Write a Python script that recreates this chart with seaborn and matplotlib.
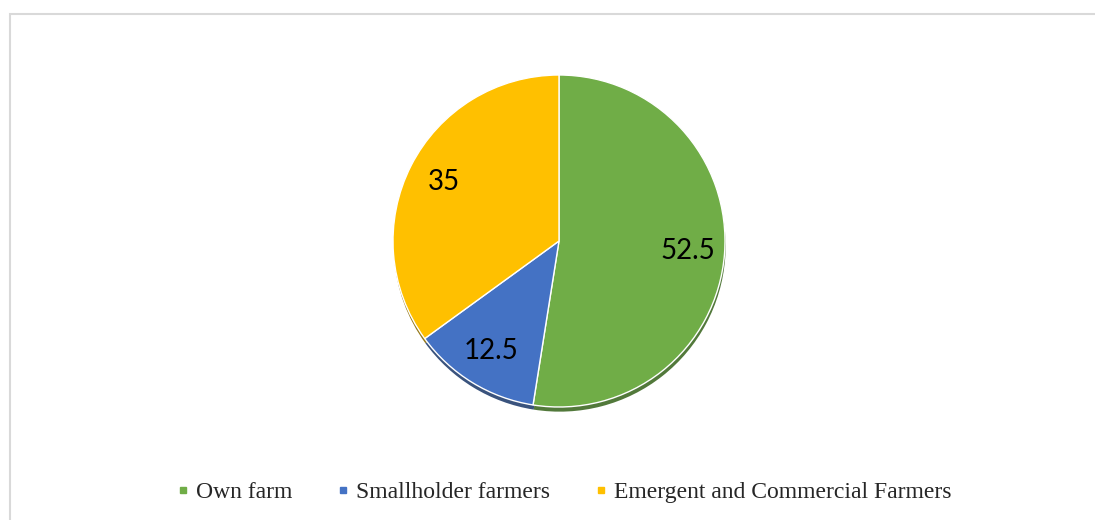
import matplotlib.pyplot as plt
import seaborn as sns
from matplotlib.lines import Line2D
from matplotlib.patches import Rectangle

categories = ["Own farm", "Smallholder farmers", "Emergent and Commercial Farmers"]
shares = [52.5, 12.5, 35]
labels = ["52.5", "12.5", "35"]
colors = ["#70AD47", "#4472C4", "#FFC000"]
shadow_colors = ["#3F6A25", "#24406F", "#8A6A00"]

sns.set_theme(style="white")
plt.rcParams["font.family"] = ["Lato", "DejaVu Sans"]

fig = plt.figure(figsize=(10.95, 5.2), dpi=100)

# light grey chart frame, cut by the right and bottom image edges
fig.patches.append(Rectangle((10 / 1095, -0.1), 1.2, (520 - 14) / 520 + 0.1,
                             transform=fig.transFigure, fill=False,
                             edgecolor="#D9D9D9", linewidth=1.5))

r = 166
cx, cy = 559, 241
ax = fig.add_axes([(cx - r) / 1095, (520 - cy - r) / 520, 2 * r / 1095, 2 * r / 520])

# soft shadow below the pie
shadow, _ = ax.pie(shares, colors=shadow_colors, startangle=90, counterclock=False,
                   radius=1.0, center=(0.004, -0.028),
                   wedgeprops=dict(linewidth=0, alpha=0.9))
wedges, texts = ax.pie(shares, colors=colors, startangle=90, counterclock=False,
                       labels=labels, labeldistance=0.78, radius=1.0,
                       wedgeprops=dict(edgecolor="white", linewidth=1))
for w in shadow + wedges:
    w.set_clip_on(False)
for t in texts:
    t.set_fontsize(20)
    t.set_color("black")
    t.set_ha("center")
ax.set_aspect("equal")
ax.set_xlim(-1, 1)
ax.set_ylim(-1, 1)
ax.axis("off")

handles = [Line2D([0], [0], marker="s", linestyle="none", markersize=5,
                  markerfacecolor=c, markeredgecolor=c) for c in colors]
fig.legend(handles, categories, loc="center", bbox_to_anchor=(564 / 1095, (520 - 492) / 520),
           ncol=3, frameon=False, handlelength=0.5, handletextpad=0.3, columnspacing=1.9,
           prop={"family": "Liberation Serif", "size": 17})

fig.savefig("out.png", dpi=100)
